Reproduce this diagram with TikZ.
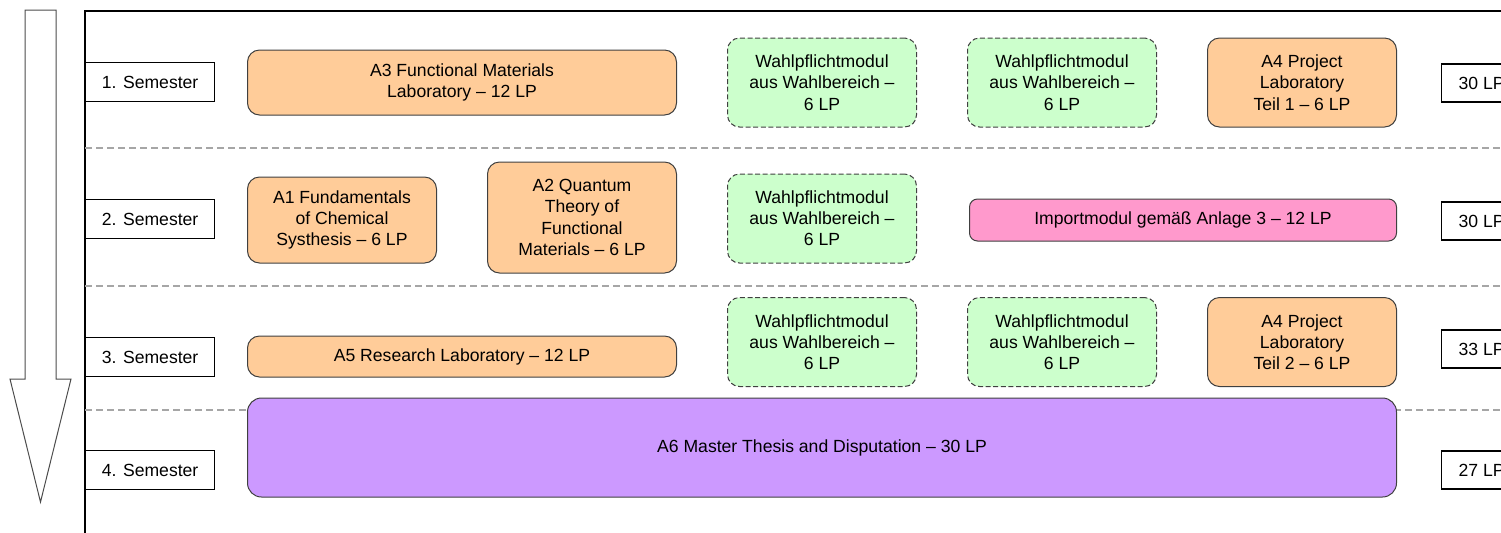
\documentclass[tikz,border=0pt]{standalone}
\usepackage{fontspec}
\setmainfont{Liberation Sans}
\usetikzlibrary{positioning}
\definecolor{pflichtcol}{HTML}{FFCC99}
\definecolor{wahlcol}{HTML}{CCFFCC}
\definecolor{importcol}{HTML}{FF99CC}
\definecolor{thesiscol}{HTML}{CC99FF}
\tikzset{
  sem/.style={draw, line width=0.6pt, fill=white, minimum width=64.5pt, minimum height=19.5pt, inner sep=0pt, align=center},
  lp/.style={draw, line width=0.6pt, fill=white, minimum width=40pt, minimum height=19pt, inner sep=0pt, align=center},
  pflicht/.style={draw=black!75, line width=0.5pt, rounded corners=6pt, fill=pflichtcol, minimum width=94.5pt, inner sep=0pt, align=center},
  wahl/.style={draw=black!75, line width=0.5pt, dash pattern=on 2.5pt off 1.3pt, rounded corners=6pt, fill=wahlcol, minimum width=94.5pt, minimum height=44.5pt, inner sep=0pt, align=center},
  import/.style={draw=black!75, line width=0.5pt, rounded corners=4pt, fill=importcol, minimum width=213.5pt, minimum height=21pt, inner sep=0pt, align=center},
  thesis/.style={draw=black!75, line width=0.5pt, rounded corners=7pt, fill=thesiscol, minimum width=574.5pt, minimum height=49.5pt, inner sep=0pt, align=center},
  sep/.style={draw=black!35, line width=0.7pt, dash pattern=on 3.5pt off 2pt},
}

\begin{document}
\begin{tikzpicture}[x=0.5pt, y=-0.5pt, node distance=25pt,
  font=\fontsize{8.8}{10.6}\selectfont]

\useasboundingbox (0,0) rectangle (1501,532);

% --- time arrow on the left ---
\draw[black!70, line width=0.5pt] (25,10) -- (56,10) -- (56,379) -- (71,379) -- (40.5,502)
  -- (10,379) -- (25,379) -- cycle;

% --- frame and semester separators ---
\draw[line width=0.75pt] (85,540) -- (85,11) -- (1520,11);
\draw[sep] (85,148) -- (1520,148);
\draw[sep] (85,286) -- (1520,286);
\draw[sep] (85,410) -- (1520,410);

% --- semester labels (left) ---
\node (sem1) [sem, anchor=west] at (85,82)  {1. Semester};
\node (sem2) [sem, anchor=west] at (85,219) {2. Semester};
\node (sem3) [sem, anchor=west] at (85,357) {3. Semester};
\node (sem4) [sem, anchor=west] at (85,470) {4. Semester};

% --- credit points (right, cut by the page edge) ---
\node (lp1) [lp, anchor=west] at (1441,83)  {30 LP};
\node (lp2) [lp, anchor=west] at (1441,221) {30 LP};
\node (lp3) [lp, anchor=west] at (1441,349) {33 LP};
\node (lp4) [lp, anchor=west] at (1441,470) {27 LP};

% --- 1. semester ---
\node (a3)    [pflicht, anchor=west, minimum width=214.5pt, minimum height=32.5pt] at (247,82.5)
  {A3 Functional Materials\\Laboratory \textendash{} 12 LP};
\node (wahl1) [wahl, right=of a3] {Wahlpflichtmodul\\aus Wahlbereich \textendash\\6 LP};
\node (wahl2) [wahl, right=of wahl1] {Wahlpflichtmodul\\aus Wahlbereich \textendash\\6 LP};
\node (a4t1)  [pflicht, right=of wahl2, minimum height=44.5pt] {A4 Project\\Laboratory\\Teil 1 \textendash{} 6 LP};

% --- 2. semester ---
\node (a1)    [pflicht, anchor=west, minimum height=43pt] at (247,220)
  {A1 Fundamentals\\of Chemical\\Systhesis \textendash{} 6 LP};
\node (a2)    [pflicht, anchor=west, minimum height=55.5pt] at (487,217.5)
  {A2 Quantum\\Theory of\\Functional\\Materials \textendash{} 6 LP};
\node (wahl3) [wahl, anchor=west] at (727,218.5) {Wahlpflichtmodul\\aus Wahlbereich \textendash\\6 LP};
\node (imp)   [import, anchor=west] at (969,220) {Importmodul gemäß Anlage 3 \textendash{} 12 LP};

% --- 3. semester ---
\node (a5)    [pflicht, anchor=west, minimum width=214.5pt, minimum height=20.5pt] at (247,356.5)
  {A5 Research Laboratory \textendash{} 12 LP};
\node (wahl4) [wahl, anchor=west] at (727,342) {Wahlpflichtmodul\\aus Wahlbereich \textendash\\6 LP};
\node (wahl5) [wahl, right=of wahl4] {Wahlpflichtmodul\\aus Wahlbereich \textendash\\6 LP};
\node (a4t2)  [pflicht, right=of wahl5, minimum height=44.5pt] {A4 Project\\Laboratory\\Teil 2 \textendash{} 6 LP};

% --- 4. semester ---
\node (a6)    [thesis, anchor=west] at (247,447.5) {A6 Master Thesis and Disputation \textendash{} 30 LP};

\end{tikzpicture}
\end{document}
